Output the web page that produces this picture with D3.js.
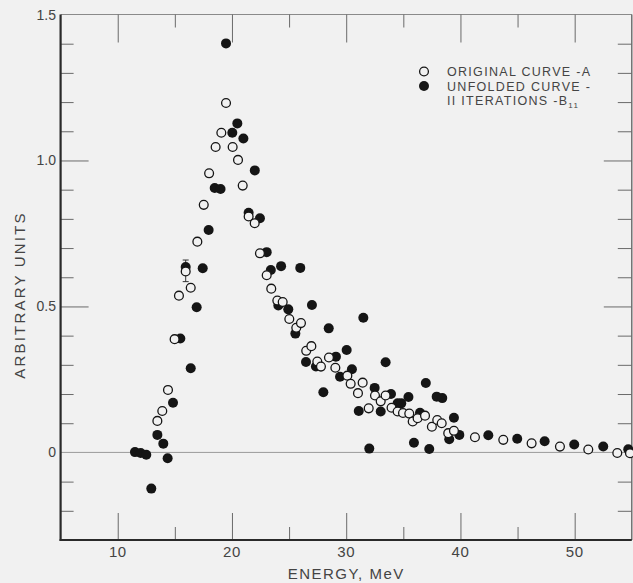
<!DOCTYPE html>
<html><head><meta charset="utf-8">
<script src="https://cdn.jsdelivr.net/npm/d3@7"></script>
<style>
html,body{margin:0;padding:0;background:#f1f1f1;}
svg{display:block;}
text{font-family:"Liberation Sans","DejaVu Sans",sans-serif;fill:#444;}
</style></head>
<body>
<script>
// ---- data ----
const originalE = [13.47,13.9,14.4,14.98,15.36,15.95,16.39,16.97,17.53,18.0,18.57,19.07,19.48,20.06,20.53,20.94,21.46,21.99,22.45,23.04,23.44,23.97,24.44,25.02,25.63,26.04,26.5,26.95,27.47,27.79,28.49,29.05,30.1,30.39,31.03,31.44,31.97,32.52,33.02,33.45,33.97,34.5,34.97,35.52,35.82,36.25,36.9,37.5,37.97,38.36,38.93,39.43,41.27,43.75,46.23,48.71,51.19,53.73,54.84];
const originalA = [0.108,0.142,0.214,0.388,0.537,0.620,0.564,0.722,0.848,0.956,1.046,1.095,1.197,1.046,1.002,0.914,0.808,0.785,0.682,0.607,0.561,0.520,0.515,0.457,0.427,0.443,0.348,0.364,0.311,0.294,0.325,0.290,0.263,0.235,0.203,0.239,0.151,0.195,0.175,0.195,0.153,0.140,0.135,0.133,0.106,0.117,0.126,0.088,0.111,0.100,0.066,0.074,0.052,0.043,0.031,0.020,0.010,-0.002,-0.003];
const unfoldedE = [11.51,12.01,12.5,12.94,13.47,13.99,14.37,14.84,15.48,15.95,16.39,16.91,17.44,17.96,18.49,19.0,19.48,20.03,20.47,21.0,21.46,22.0,22.45,23.04,23.4,24.06,24.3,24.93,25.55,25.98,26.48,27.0,27.35,28.0,28.47,29.1,29.46,30.04,30.5,31.1,31.5,32.02,32.49,33.02,33.45,33.92,34.5,34.82,35.45,35.93,36.46,36.97,37.27,37.92,38.41,39.02,39.43,39.9,42.44,44.97,47.37,49.96,52.5,54.69];
const unfoldedB = [0.001,-0.002,-0.008,-0.124,0.060,0.030,-0.020,0.170,0.390,0.635,0.288,0.497,0.631,0.762,0.906,0.902,1.401,1.095,1.127,1.075,0.821,0.966,0.802,0.686,0.625,0.503,0.638,0.490,0.407,0.632,0.310,0.505,0.294,0.206,0.425,0.328,0.259,0.351,0.285,0.142,0.461,0.013,0.221,0.140,0.309,0.200,0.168,0.168,0.190,0.033,0.136,0.238,0.012,0.191,0.186,0.045,0.119,0.060,0.059,0.047,0.038,0.027,0.020,0.011];
const errorBarE = [15.95];
const errorBarLow = [0.585];
const errorBarHigh = [0.659];
const xMajorTicks = [10,20,30,40,50];
const xMinorTicks = [15,25,35,45];
const yMajorTicks = [0,0.5,1.0,1.5];
const yTickLabels = ["0","0.5","1.0","1.5"];
const yMinorTicks = [-0.2,-0.1,0.1,0.2,0.3,0.4,0.6,0.7,0.8,0.9,1.1,1.2,1.3,1.4];
const legendLabels = ["ORIGINAL CURVE -A","UNFOLDED CURVE -","II ITERATIONS -B"];
const xTitle = "ENERGY, MeV";
const yTitle = "ARBITRARY UNITS";

// ---- layout ----
const W = 633, H = 583;
const L = 60.6, R = 631.8, T = 14.5, B = 540;
const bg = "#f1f1f1", ink = "#151515", axisInk = "#2a2a2a";

const svg = d3.select("body").append("svg").attr("width", W).attr("height", H);
svg.append("rect").attr("width", W).attr("height", H).attr("fill", bg);

const x = d3.scaleLinear().domain([5,55]).range([L,R]);
const y = d3.scaleLinear().domain([-0.3,1.5]).range([B,T]);

// zero line
svg.append("line").attr("x1",L).attr("x2",R).attr("y1",y(0)).attr("y2",y(0))
  .attr("stroke","#9a9a9a").attr("stroke-width",1);

// frame: top & right thin
svg.append("line").attr("x1",L).attr("x2",R).attr("y1",T).attr("y2",T).attr("stroke","#8a8a8a").attr("stroke-width",1);
svg.append("line").attr("x1",R).attr("x2",R).attr("y1",T).attr("y2",B).attr("stroke","#555").attr("stroke-width",1.2);

// axes via d3 axis generators, ticks pointing inward
const tickStroke = "#6a6a6a";
function styleAxis(g){ g.select(".domain").remove(); g.selectAll(".tick line").attr("stroke",tickStroke).attr("stroke-width",1); }

svg.append("g").attr("transform",`translate(0,${B})`)
  .call(d3.axisBottom(x).tickValues(xMajorTicks).tickSize(-27).tickFormat(""))
  .call(styleAxis);
svg.append("g").attr("transform",`translate(0,${B})`)
  .call(d3.axisBottom(x).tickValues(xMinorTicks).tickSize(-13).tickFormat(""))
  .call(styleAxis);
svg.append("g").attr("transform",`translate(0,${T})`)
  .call(d3.axisTop(x).tickValues(xMajorTicks).tickSize(-28).tickFormat(""))
  .call(styleAxis);
svg.append("g").attr("transform",`translate(0,${T})`)
  .call(d3.axisTop(x).tickValues(xMinorTicks).tickSize(-13).tickFormat(""))
  .call(styleAxis);
svg.append("g").attr("transform",`translate(${L},0)`)
  .call(d3.axisLeft(y).tickValues(yMajorTicks.filter(v=>v!==0 && v!==1.5)).tickSize(-28).tickFormat(""))
  .call(styleAxis);
svg.append("g").attr("transform",`translate(${L},0)`)
  .call(d3.axisLeft(y).tickValues(yMinorTicks).tickSize(-13).tickFormat(""))
  .call(styleAxis);
svg.append("g").attr("transform",`translate(${R},0)`)
  .call(d3.axisRight(y).tickValues(yMajorTicks.filter(v=>v!==0 && v!==1.5)).tickSize(-28).tickFormat(""))
  .call(styleAxis);
svg.append("g").attr("transform",`translate(${R},0)`)
  .call(d3.axisRight(y).tickValues(yMinorTicks).tickSize(-14).tickFormat(""))
  .call(styleAxis);

// main thick axes
svg.append("line").attr("x1",L).attr("x2",L).attr("y1",T).attr("y2",B+1).attr("stroke",axisInk).attr("stroke-width",2.2);
svg.append("line").attr("x1",L-1).attr("x2",R).attr("y1",B).attr("y2",B).attr("stroke",axisInk).attr("stroke-width",2.2);

// tick labels
svg.selectAll("text.xl").data(xMajorTicks).enter().append("text")
  .attr("x",d=>x(d)).attr("y",557).attr("text-anchor","middle")
  .attr("font-size",15).style("letter-spacing","0.5px").text(d=>d);
svg.selectAll("text.yl").data(yMajorTicks).enter().append("text")
  .attr("x",56).attr("y",d=>y(d)+5).attr("text-anchor","end")
  .attr("font-size",14).text((d,i)=>yTickLabels[i]);

// axis titles
svg.append("text").attr("x",(L+R)/2).attr("y",579).attr("text-anchor","middle")
  .attr("font-size",15).style("letter-spacing","1.5px").text(xTitle);
svg.append("text").attr("transform",`translate(25,295) rotate(-90)`).attr("text-anchor","middle")
  .attr("font-size",15).style("letter-spacing","2.2px").text(yTitle);

// error bar
errorBarE.forEach((e,i)=>{
  const g = svg.append("g").attr("stroke","#333").attr("stroke-width",1);
  g.append("line").attr("x1",x(e)).attr("x2",x(e)).attr("y1",y(errorBarLow[i])).attr("y2",y(errorBarHigh[i]));
  g.append("line").attr("x1",x(e)-3).attr("x2",x(e)+3).attr("y1",y(errorBarLow[i])).attr("y2",y(errorBarLow[i]));
  g.append("line").attr("x1",x(e)-3).attr("x2",x(e)+3).attr("y1",y(errorBarHigh[i])).attr("y2",y(errorBarHigh[i]));
});

// points
const unfolded = unfoldedE.map((e,i)=>({e, v:unfoldedB[i]}));
const original = originalE.map((e,i)=>({e, v:originalA[i]}));
svg.append("g").selectAll("circle").data(unfolded).enter().append("circle")
  .attr("cx",d=>x(d.e)).attr("cy",d=>y(d.v)).attr("r",5).attr("fill",ink);
svg.append("g").selectAll("circle").data(original).enter().append("circle")
  .attr("cx",d=>x(d.e)).attr("cy",d=>y(d.v)).attr("r",4.4)
  .attr("fill",bg).attr("stroke",ink).attr("stroke-width",1.3);

// legend
const lg = svg.append("g");
lg.append("circle").attr("cx",424).attr("cy",71.5).attr("r",4.4).attr("fill",bg).attr("stroke",ink).attr("stroke-width",1.3);
lg.append("circle").attr("cx",424).attr("cy",86).attr("r",5).attr("fill",ink);
const ly = [76, 90.5, 105];
legendLabels.forEach((t,i)=>{
  const tx = lg.append("text").attr("x",447).attr("y",ly[i]).attr("font-size",12.5).style("letter-spacing","1.3px").text(t);
  if(i===2) tx.append("tspan").attr("font-size",8).attr("dy",3).text("11");
});
</script>
</body></html>
